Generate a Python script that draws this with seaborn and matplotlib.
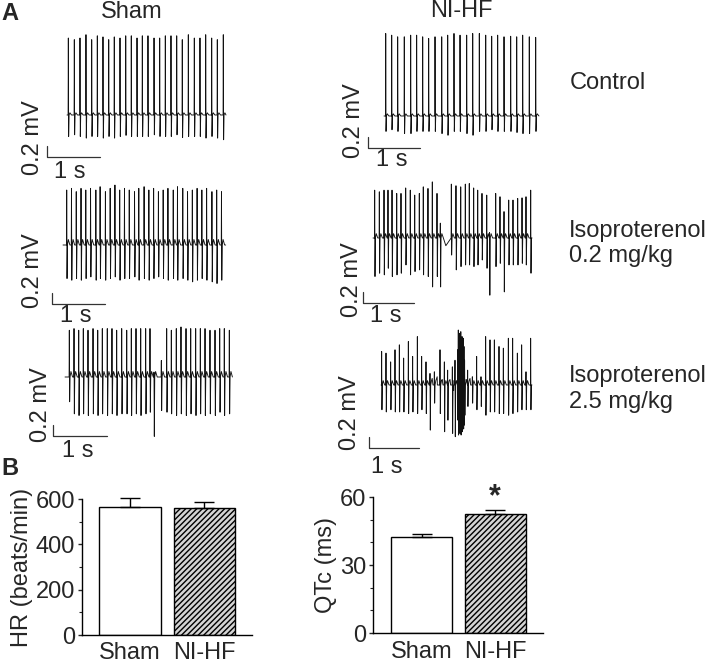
import numpy as np
import pandas as pd
import seaborn as sns
import matplotlib.pyplot as plt

sns.set_style('white')
plt.rcParams['font.family'] = ['Liberation Sans', 'DejaVu Sans']

W, H = 709, 665
PPM = 55.0  # pixels per mV in the traces

# ECG traces: beat times (s), R peak (mV), S trough (mV)
sham_ctrl_t = [0.025, 0.138, 0.245, 0.358, 0.466, 0.572, 0.679, 0.787, 0.892, 1.0, 1.108, 1.213, 1.321, 1.421,
               1.528, 1.642, 1.749, 1.855, 1.962, 2.07, 2.175, 2.289, 2.402, 2.509, 2.617, 2.73, 2.836, 2.949]
sham_ctrl_r = [1.40, 1.37, 1.40, 1.46, 1.37, 1.44, 1.42, 1.37, 1.42, 1.40, 1.44, 1.44, 1.40, 1.44,
               1.44, 1.40, 1.40, 1.44, 1.44, 1.44, 1.37, 1.46, 1.40, 1.40, 1.46, 1.40, 1.37, 1.46]
sham_ctrl_s = [-0.39, -0.36, -0.39, -0.42, -0.39, -0.39, -0.42, -0.39, -0.42, -0.39, -0.37, -0.39, -0.39, -0.39,
               -0.39, -0.36, -0.39, -0.39, -0.39, -0.36, -0.41, -0.39, -0.39, -0.39, -0.42, -0.39, -0.42, -0.45]

hf_ctrl_t = [0.033, 0.148, 0.263, 0.39, 0.513, 0.628, 0.744, 0.859, 0.981, 1.11, 1.225, 1.346, 1.462,
             1.59, 1.706, 1.833, 1.956, 2.071, 2.186, 2.308, 2.436, 2.552, 2.667, 2.794, 2.917]
hf_ctrl_r = [1.50, 1.47, 1.44, 1.44, 1.47, 1.47, 1.44, 1.41, 1.44, 1.44, 1.47, 1.50, 1.47,
             1.47, 1.50, 1.50, 1.47, 1.45, 1.47, 1.44, 1.45, 1.44, 1.47, 1.44, 1.43]
hf_ctrl_s = [-0.28, -0.25, -0.28, -0.32, -0.32, -0.28, -0.28, -0.28, -0.28, -0.32, -0.35, -0.28, -0.28,
             -0.32, -0.35, -0.28, -0.28, -0.25, -0.28, -0.28, -0.28, -0.30, -0.32, -0.32, -0.28]

sham_lo_t = [0.07, 0.16, 0.25, 0.34, 0.43, 0.52, 0.62, 0.70, 0.80, 0.89, 0.98, 1.07, 1.16, 1.25, 1.35, 1.43, 1.53,
             1.62, 1.71, 1.80, 1.89, 1.98, 2.08, 2.16, 2.26, 2.35, 2.44, 2.53, 2.62, 2.71, 2.81, 2.90, 2.99]
sham_lo_r = [1.0, 1.03, 0.97, 1.03, 1.0, 1.03, 1.0, 1.06, 0.97, 1.03, 1.09, 1.0, 1.03, 1.0, 0.97, 1.03, 1.06,
             1.0, 1.03, 0.97, 1.0, 1.03, 1.0, 1.06, 1.03, 0.97, 1.0, 1.03, 1.0, 1.03, 0.97, 1.0, 0.97]
sham_lo_s = [-0.61, -0.64, -0.61, -0.64, -0.61, -0.58, -0.64, -0.61, -0.64, -0.61, -0.58, -0.64, -0.61, -0.61,
             -0.58, -0.64, -0.61, -0.64, -0.61, -0.58, -0.61, -0.64, -0.61, -0.64, -0.61, -0.64, -0.67, -0.64,
             -0.61, -0.64, -0.67, -0.70, -0.64]

hf_lo_t = [0.033, 0.124, 0.216, 0.294, 0.373, 0.465, 0.549, 0.641, 0.731, 0.818, 0.908, 0.986, 1.078, 1.163,
           1.255, 1.32, 1.536, 1.627, 1.72, 1.81, 1.888, 1.974, 2.053, 2.137, 2.23, 2.285, 2.406, 2.49, 2.569,
           2.661, 2.745, 2.837, 2.922, 3.0, 3.092]
hf_lo_r = [0.87, 0.84, 0.87, 0.87, 0.87, 0.81, 0.81, 0.91, 0.87, 0.78, 0.81, 0.93, 0.90, 1.02, 0.81, 0.27,
           0.98, 0.95, 0.93, 0.98, 0.99, 0.91, 0.87, 0.81, 0.78, 0.10, 0.81, 0.75, 0.48, 0.69, 0.69, 0.72,
           0.73, 0.75, 0.87]
hf_lo_s = [-0.70, -0.64, -0.67, -0.55, -0.70, -0.67, -0.64, -0.49, -0.67, -0.61, -0.58, -0.67, -0.70, -0.89,
           -0.70, -0.89, -0.31, -0.58, -0.52, -0.49, -0.49, -0.52, -0.49, -0.40, -0.55, -1.04, -0.52, -0.46,
           -0.98, -0.49, -0.49, -0.49, -0.46, -0.49, -0.64]
hf_lo_mid = {15: -0.14}

sham_hi_t = [0.08, 0.167, 0.254, 0.339, 0.426, 0.519, 0.606, 0.691, 0.783, 0.87, 0.957, 1.05, 1.143, 1.228,
             1.315, 1.402, 1.494, 1.574, 1.648, 1.784, 1.883, 1.969, 2.061, 2.148, 2.241, 2.328, 2.42, 2.506,
             2.593, 2.685, 2.778, 2.865, 2.95, 3.043]
sham_hi_r = [0.85, 0.88, 0.85, 0.88, 0.85, 0.88, 0.85, 0.88, 0.88, 0.88, 0.85, 0.88, 0.85, 0.88, 0.88, 0.88,
             0.88, 0.88, 0.09, 0.30, 0.88, 0.85, 0.88, 0.91, 0.88, 0.88, 0.88, 0.88, 0.88, 0.85, 0.85, 0.88,
             0.88, 0.85]
sham_hi_s = [-0.45, -0.67, -0.70, -0.67, -0.70, -0.67, -0.70, -0.67, -0.70, -0.67, -0.70, -0.67, -0.67, -0.70,
             -0.67, -0.70, -0.67, -0.64, -1.08, -0.61, -0.64, -0.67, -0.70, -0.67, -0.70, -0.67, -0.70, -0.67,
             -0.70, -0.67, -0.70, -0.64, -0.70, -0.67]

hf_hi_t = [0.013, 0.10, 0.193, 0.28, 0.367, 0.453, 0.547, 0.633, 0.727, 0.813, 0.90, 0.98, 1.067, 1.18, 1.267,
           1.333, 1.427, 1.48, 1.533, 1.546, 1.558, 1.571, 1.584, 1.596, 1.609, 1.622, 1.634, 1.647, 1.66, 1.672,
           1.733, 1.827, 1.913, 2.0, 2.093, 2.18, 2.267, 2.36, 2.447, 2.547, 2.633, 2.727, 2.813, 2.9, 2.993]
hf_hi_r = [0.61, 0.58, 0.42, 0.64, 0.73, 0.49, 0.79, 0.52, 0.88, 0.52, 0.42, 0.21, 0.24, 0.64, 0.42, 0.27,
           0.33, 0.45, 0.64, 1.0, 0.80, 0.94, 0.70, 0.97, 0.75, 0.88, 0.60, 0.85, 0.70, 0.45, 0.27, 0.15, 0.52,
           0.15, 0.88, 0.82, 0.82, 0.70, 0.67, 0.85, 0.85, 0.58, 0.73, 0.24, 0.85]
hf_hi_s = [-0.45, -0.49, -0.45, -0.49, -0.49, -0.49, -0.52, -0.49, -0.52, -0.45, -0.52, -0.82, -0.33, -0.52,
           -0.85, -0.64, -0.88, -0.94, -0.64, -0.91, -0.80, -0.88, -0.76, -0.91, -0.73, -0.85, -0.70, -0.80,
           -0.73, -0.55, -0.39, -0.33, -0.45, -0.39, -0.55, -0.49, -0.49, -0.52, -0.52, -0.55, -0.52, -0.49,
           -0.45, -0.45, -0.45]
hf_hi_mid = {11: 0.12, 12: 0.15, 13: 0.1, 15: 0.1, 16: -0.1, 29: 0.1, 30: 0.12}

# panel B
groups = ['Sham', 'NI-HF']
hr_mean = [566, 559]
hr_err = [37, 29]
qtc_mean = [42.4, 52.4]
qtc_err = [1.3, 2.0]

fig = plt.figure(figsize=(W / 100, H / 100), dpi=100)


def px_rect(left, top, right, bottom):
    return [left / W, 1 - bottom / H, (right - left) / W, (bottom - top) / H]


def ftext(x, y, s, **kw):
    kw.setdefault('fontsize', 17)
    fig.text(x / W, 1 - y / H, s, **kw)


def build(times, r_amp, s_amp, t_amp, mids, t_end):
    pts = [(0.0, 0.0)]
    for i, b in enumerate(times):
        nxt = times[i + 1] if i + 1 < len(times) else t_end
        gap = nxt - b
        beat = [(-0.004, 0.0), (0.0, r_amp[i]), (0.006, s_amp[i]), (0.014, 0.0), (0.03, t_amp), (0.06, 0.0)]
        for k, (dt, val) in enumerate(beat):
            if k < 3 or dt < gap - 0.006:
                pts.append((b + dt, val))
        if i in mids:
            pts.append((b + gap / 2, mids[i]))
    pts.append((t_end, 0.0))
    pts.sort(key=lambda p: p[0])
    return pd.DataFrame(pts, columns=['t', 'mv'])


def add_trace(x0, yb, pps, bx, by, t_end, times, r_amp, s_amp, t_amp=0.04, mids=None):
    left, right = bx - 5, x0 + t_end * pps + 5
    top, bottom = yb - 95, by + 5
    ax = fig.add_axes(px_rect(left, top, right, bottom))
    ax.set_xlim((left - x0) / pps, (right - x0) / pps)
    ax.set_ylim((yb - bottom) / PPM, (yb - top) / PPM)
    ax.axis('off')
    df = build(times, r_amp, s_amp, t_amp, mids or {}, t_end)
    sns.lineplot(data=df, x='t', y='mv', sort=False, estimator=None, color='#111111', lw=0.65, ax=ax)
    for ln in ax.lines:
        ln.set_clip_on(False)
    sb_t = (bx - x0) / pps
    sb_v = (yb - by) / PPM
    ax.plot([sb_t, sb_t, sb_t + 1], [sb_v + 0.2, sb_v, sb_v], color='#333333', lw=0.9, clip_on=False)
    return ax


add_trace(67, 115, 53, 47, 157, 3.0, sham_ctrl_t, sham_ctrl_r, sham_ctrl_s)
add_trace(384, 116, 52, 368, 148, 2.98, hf_ctrl_t, hf_ctrl_r, hf_ctrl_s)
add_trace(63, 245, 53, 52, 304, 3.07, sham_lo_t, sham_lo_r, sham_lo_s, t_amp=0.1)
add_trace(373, 238, 51, 363, 303, 3.12, hf_lo_t, hf_lo_r, hf_lo_s, t_amp=0.08, mids=hf_lo_mid)
add_trace(65, 377, 54, 53, 436, 3.1, sham_hi_t, sham_hi_r, sham_hi_s, t_amp=0.1)
add_trace(381, 385, 50, 369, 448, 3.02, hf_hi_t, hf_hi_r, hf_hi_s, t_amp=0.08, mids=hf_hi_mid)

# scale bar labels
for x, y in [(33, 138), (354, 121), (33, 271), (352, 280), (41, 405), (350, 413)]:
    ftext(x, y, '0.2 mV', rotation=90, ha='center', va='center')
for x, y in [(70, 172), (392, 160), (76, 316), (386, 316), (78, 451), (387, 467)]:
    ftext(x, y, '1 s', ha='center', va='center')

# headings
ftext(10, 20, 'A', fontweight='bold', ha='center', va='baseline', fontsize=17)
ftext(10, 475, 'B', fontweight='bold', ha='center', va='baseline', fontsize=17)
ftext(132, 18, 'Sham', ha='center', va='baseline')
ftext(461, 17, 'NI-HF', ha='center', va='baseline')
ftext(570, 89, 'Control', ha='left', va='baseline')
ftext(569, 237, 'Isoproterenol', ha='left', va='baseline')
ftext(569, 262, '0.2 mg/kg', ha='left', va='baseline')
ftext(569, 382, 'Isoproterenol', ha='left', va='baseline')
ftext(569, 408, '2.5 mg/kg', ha='left', va='baseline')


def bar_panel(rect, means, errs, ymax, major, minor, ylabel, xlim, xpad):
    ax = fig.add_axes(px_rect(*rect))
    sns.barplot(x=groups, y=means, hue=groups, palette=['white', '#d4d4d4'], legend=False,
                width=0.83, edgecolor='black', linewidth=1, ax=ax)
    ax.patches[1].set_hatch('//////')
    ax.errorbar([0, 1], means, yerr=[[0, 0], errs], fmt='none', ecolor='black',
                elinewidth=1, capsize=7, capthick=1, clip_on=False)
    ax.set_xlim(*xlim)
    ax.set_ylim(0, ymax)
    ax.set_yticks(major)
    ax.set_yticks(minor, minor=True)
    sns.despine(ax=ax)
    ax.spines['left'].set_bounds(0, ymax)
    for sp in ['left', 'bottom']:
        ax.spines[sp].set_linewidth(1)
        ax.spines[sp].set_color('black')
    ax.tick_params(axis='y', which='major', direction='out', length=3, width=1, labelsize=17, pad=2, left=True)
    ax.tick_params(axis='y', which='minor', direction='out', length=2, width=0.8, left=True)
    ax.tick_params(axis='x', length=0, labelsize=17, pad=xpad)
    ax.set_ylabel(ylabel, fontsize=17, labelpad=2)
    ax.set_xlabel('')
    return ax


bar_panel((82, 499, 252, 635), hr_mean, hr_err, 600, [0, 200, 400, 600], [100, 300, 500],
          'HR (beats/min)', (-0.644, 1.638), 5)
ax_q = bar_panel((373, 497, 543, 633), qtc_mean, qtc_err, 60, [0, 30, 60], [10, 20, 40, 50],
                 'QTc (ms)', (-0.66, 1.653), 6)
ax_q.text(1, 59.8, '*', ha='center', va='center', fontsize=22, fontweight='bold')

fig.savefig('out.png', dpi=100)
